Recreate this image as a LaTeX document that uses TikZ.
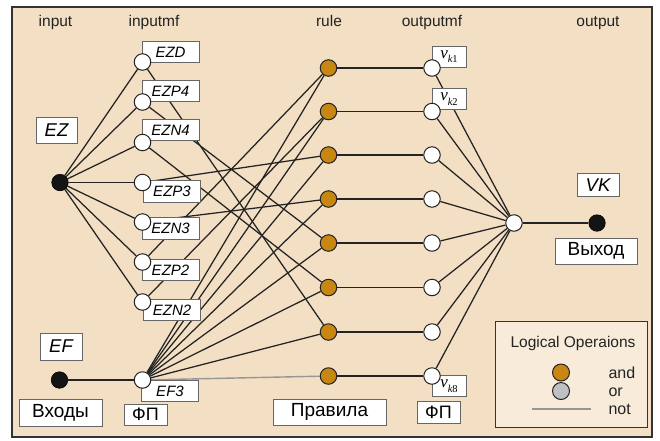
\documentclass[tikz,border=0pt]{standalone}
\usepackage{fontspec}
\setmainfont{Liberation Sans}
\newfontfamily\vfont{Liberation Serif}
\pgfdeclarelayer{back}
\pgfdeclarelayer{wires}
\pgfsetlayers{back,wires,main}
\definecolor{paper}{RGB}{243,223,196}
\definecolor{legendfill}{RGB}{248,235,218}
\definecolor{andfill}{RGB}{200,134,18}
\definecolor{orfill}{RGB}{190,192,194}
\definecolor{ink}{RGB}{35,35,35}
\definecolor{notline}{RGB}{150,150,150}
\newcommand{\vsub}[1]{{\vfont\itshape v}\raisebox{-0.28em}{\vfont\fontsize{10.5}{10.5}\selectfont\itshape k\upshape #1}}
\begin{document}
\begin{tikzpicture}[x=1pt,y=-1pt,
  mf/.style={circle,draw=ink,fill=white,line width=1pt,minimum size=16.5pt,inner sep=0pt},
  rulenode/.style={circle,draw=ink,fill=andfill,line width=1pt,minimum size=16.5pt,inner sep=0pt},
  dot/.style={circle,draw=black,fill=black!92,line width=0.6pt,minimum size=16.5pt,inner sep=0pt},
  tag/.style={draw=black!60,fill=white,line width=0.9pt,inner sep=0pt},
  mftag/.style={tag,minimum width=57pt,minimum height=21.5pt,font=\fontsize{15}{15}\selectfont\itshape},
  vtag/.style={tag,minimum width=34pt,minimum height=21pt,font=\fontsize{17}{17}\selectfont},
  head/.style={anchor=base,text=ink,font=\fontsize{15.5}{16}\selectfont},
  wire/.style={draw=ink,line width=1.25pt},
  notwire/.style={draw=notline,line width=1.4pt}]

\useasboundingbox (0,0) rectangle (660,440);

% frame and background
\begin{pgfonlayer}{back}
  \fill[white] (0,0) rectangle (660,440);
  \draw[fill=paper,draw=black!80,line width=1.4pt] (12,7) rectangle (652,437);
\end{pgfonlayer}

% column headings
\node[head] (hin)   at (55.5,26.5) {input};
\node[head] (hinmf) at (154,26.5) {inputmf};
\node[head] (hrule) at (329,26.5) {rule};
\node[head] (houtmf) at (432,26.5) {outputmf};
\node[head] (hout)  at (598,26.5) {output};

% input variables
\node[tag,minimum width=41pt,minimum height=26pt,font=\fontsize{18.5}{18}\selectfont\itshape] (ezname) at (56.5,130) {EZ};
\node[tag,minimum width=42pt,minimum height=27pt,font=\fontsize{18.5}{18}\selectfont\itshape] (efname) at (61,346.5) {EF};
\node[tag,minimum width=83pt,minimum height=27pt,font=\fontsize{19}{19}\selectfont] (inputs) at (60.5,412.5) {Входы};
\node[dot] (ez) at (60,182.5) {};
\node[dot] (ef) at (59.5,380) {};

% input membership function labels
\node[mftag] (tEZD)  at (170.5,52)    {EZD};
\node[mftag] (tEZP4) at (170.5,91)    {EZP4};
\node[mftag] (tEZN4) at (170.5,130)   {EZN4};
\node[mftag] (tEZP3) at (172,191.5)   {EZP3};
\node[mftag] (tEZN3) at (170.5,228.5) {EZN3};
\node[mftag] (tEZP2) at (170.5,270)   {EZP2};
\node[mftag] (tEZN2) at (172,310)     {EZN2};
\node[mftag] (tEF3)  at (170,391)     {EF3};
\node[tag,minimum width=43pt,minimum height=21pt,font=\fontsize{18}{18}\selectfont] (fpin) at (145.5,414.5) {ФП};

% input membership functions
\node[mf] (EZD)  at (142.5,62)  {};
\node[mf] (EZP4) at (142.5,102) {};
\node[mf] (EZN4) at (142.5,142.5) {};
\node[mf] (EZP3) at (142.5,182.5) {};
\node[mf] (EZN3) at (142.5,222) {};
\node[mf] (EZP2) at (142.5,262) {};
\node[mf] (EZN2) at (142.5,302) {};
\node[mf] (EF3)  at (142.5,380) {};

% rules
\foreach \i/\y in {1/68,2/111.5,3/155,4/199,5/243,6/287.5,7/332,8/376}
  \node[rulenode] (r\i) at (328.5,\y) {};
\node[tag,minimum width=113pt,minimum height=26pt,font=\fontsize{19}{19}\selectfont] (rules) at (329.5,412) {Правила};

% output membership function labels
\node[vtag] (tv1) at (449,56.5) {\vsub{1}};
\node[vtag] (tv2) at (449,99)   {\vsub{2}};
\node[vtag] (tv8) at (449,386)  {\vsub{8}};
\node[tag,minimum width=43pt,minimum height=22pt,font=\fontsize{18}{18}\selectfont] (fpout) at (438.5,412) {ФП};

% output membership functions
\foreach \i/\y in {1/68,2/111.5,3/155,4/199,5/243,6/287.5,7/332,8/376}
  \node[mf] (o\i) at (432,\y) {};

% output
\node[mf] (sum) at (514,223) {};
\node[dot] (vk) at (597,223) {};
\node[tag,minimum width=42pt,minimum height=23pt,font=\fontsize{18.5}{18}\selectfont\itshape] (vkname) at (598,185) {VK};
\node[tag,minimum width=82pt,minimum height=26pt,font=\fontsize{19}{19}\selectfont] (outname) at (596,251) {Выход};

% legend
\node[draw=black!80,fill=legendfill,line width=1pt,minimum width=152pt,minimum height=106pt,inner sep=0pt] (legend) at (571,374) {};
\node[anchor=base,text=ink,font=\fontsize{15.5}{15}\selectfont] (legtitle) at (573,347) {Logical Operaions};
\node[circle,draw=ink,fill=andfill,line width=1pt,minimum size=17pt,inner sep=0pt] (legand) at (561,372.5) {};
\node[circle,draw=ink,fill=orfill,line width=1pt,minimum size=17pt,inner sep=0pt] (legor) at (561,391) {};
\coordinate (notA) at (532,409);
\coordinate (notB) at (591,409);
\node[anchor=base west,text=ink,font=\fontsize{16}{16}\selectfont] (landt) at (605,378) {and};
\node[anchor=base west,text=ink,font=\fontsize{16}{16}\selectfont] (lort)  at (605,396) {or};
\node[anchor=base west,text=ink,font=\fontsize{16}{16}\selectfont] (lnott) at (605,414) {not};

% connectors
\begin{pgfonlayer}{wires}
  \foreach \m in {EZD,EZP4,EZN4,EZP3,EZN3,EZP2,EZN2}
    \draw[wire] (ez) -- (\m);
  \draw[wire] (ef) -- (EF3);
  \foreach \i in {1,...,7}
    \draw[wire] (EF3) -- (r\i);
  \draw[notwire] (EF3) -- (r8);
  \draw[wire] (EZP2) -- (r1);
  \draw[wire] (EZN2) -- (r2);
  \draw[wire] (EZP3) -- (r3);
  \draw[wire] (EZN3) -- (r4);
  \draw[wire] (EZP4) -- (r5);
  \draw[wire] (EZN4) -- (r6);
  \draw[wire] (EZD)  -- (r7);
  \foreach \i in {1,...,8} {
    \draw[wire] (r\i) -- (o\i);
    \draw[wire] (o\i) -- (sum);
  }
  \draw[wire] (sum) -- (vk);
\end{pgfonlayer}
\draw[notwire] (notA) -- (notB);

\end{tikzpicture}
\end{document}
